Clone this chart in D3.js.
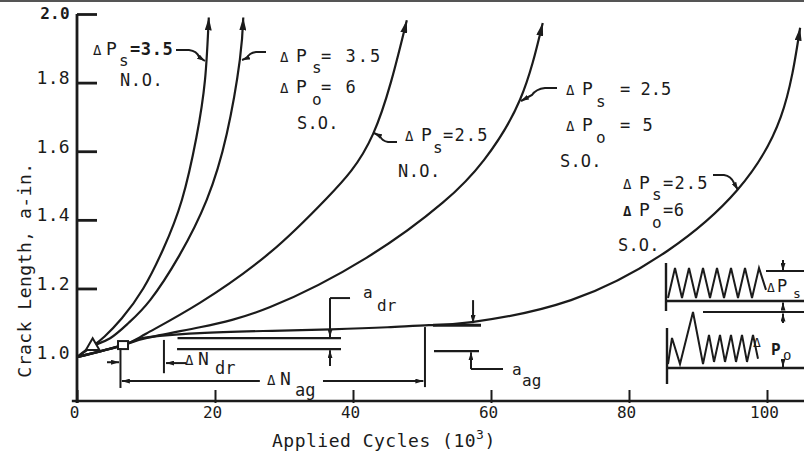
<!DOCTYPE html>
<html><head><meta charset="utf-8">
<script src="https://cdn.jsdelivr.net/npm/d3@7"></script>
<style>
body{margin:0;background:#fff}
svg{display:block;background:#fff}
text{font-family:"DejaVu Sans Mono",monospace;fill:#1b1b1b}
</style>
</head><body>
<svg id="c" width="804" height="453"></svg>
<script>
// ---------- data (cycles in 10^3, crack length in inches) ----------
const xTicks = [0, 20, 40, 60, 80, 100];
const xTickLabels = ["0", "20", "40", "60", "80", "100"];
const yTicks = [1.0, 1.2, 1.4, 1.6, 1.8, 2.0];
const yTickLabels = ["1.0", "1.2", "1.4", "1.6", "1.8", "2.0"];

const curvePs35NO = [[0,1.0],[2.27,1.032],[4,1.06],[6.5,1.113],[9.6,1.2],[12.5,1.315],[15.2,1.458],[17.3,1.64],[18.55,1.808],[19.1,1.99]];
const curvePs35Po6SO = [[0,1.0],[2.27,1.032],[4.8,1.055],[7.5,1.10],[10.6,1.166],[14.8,1.295],[18.8,1.458],[21.7,1.65],[23.6,1.866],[24.1,1.99]];
const curvePs25NO = [[0,1.0],[6.67,1.035],[10,1.068],[17.8,1.158],[28,1.305],[36.2,1.463],[42.9,1.65],[47.8,1.982]];
const curvePs25Po5SO = [[0,1.0],[6.67,1.035],[10,1.055],[17.8,1.087],[28,1.146],[42,1.29],[53,1.45],[59,1.575],[64.2,1.75],[67.5,1.974]];
const curvePs25Po6SO = [[0,1.0],[6.67,1.035],[9,1.053],[12,1.062],[17.8,1.07],[27,1.076],[36.8,1.081],[45,1.087],[51,1.093],[57.2,1.102],[71.6,1.166],[85.6,1.31],[95.7,1.487],[102,1.70],[104.8,1.96]];
const series = [curvePs35NO, curvePs35Po6SO, curvePs25NO, curvePs25Po5SO, curvePs25Po6SO];

const trianglePoint = [2.27, 1.032];
const squarePoint = [6.67, 1.035];

// load-spectrum sketch (inset): time steps and relative load levels
const constAmpT = [0,1,2,3,4,5,6,7,8,9,10,11,12,13,14];
const constAmpL = [0,1,0,1,0,1,0,1,0,1,0,1,0,1,0.27];
const overloadT = [0,4,12,25,35,41,46,52,57,63,68,74,79,85,90];
const overloadL = [0,0.5,0,1,0,0.56,0.04,0.56,0.04,0.56,0.04,0.56,0.04,0.56,0.1];

// ---------- drawing ----------
const ink = "#1b1b1b";
const svg = d3.select("#c");
const x = d3.scaleLinear().domain([0, 100]).range([77, 767]);
const y = d3.scaleLinear().domain([0.872, 2.0]).range([401, 14]);

const defs = svg.append("defs");
function mk(id, len, wid) {
  defs.append("marker").attr("id", id).attr("markerUnits", "userSpaceOnUse")
    .attr("viewBox", `0 0 ${len} ${wid}`).attr("refX", len).attr("refY", wid / 2)
    .attr("markerWidth", len).attr("markerHeight", wid).attr("orient", "auto")
    .append("path").attr("d", `M0,0L${len},${wid / 2}L0,${wid}Z`).attr("fill", ink);
}
mk("tip", 13, 7);
mk("sm", 8, 5);

// scan border at top
svg.append("line").attr("x1", 0).attr("x2", 804).attr("y1", 1).attr("y2", 1)
  .attr("stroke", "#555").attr("stroke-width", 2);

// axes
svg.append("line").attr("x1", x(0)).attr("x2", x(0)).attr("y1", y(2.0)).attr("y2", 403)
  .attr("stroke", ink).attr("stroke-width", 2.8);
svg.append("line").attr("x1", x(-0.75)).attr("x2", 804).attr("y1", y(0.872)).attr("y2", y(0.872))
  .attr("stroke", ink).attr("stroke-width", 2.6);

const yAxis = svg.append("g").attr("transform", `translate(${x(0)},0)`)
  .call(d3.axisLeft(y).tickValues(yTicks).tickSize(-20).tickPadding(7)
    .tickFormat((d, i) => yTickLabels[i]));
yAxis.select(".domain").remove();
yAxis.selectAll(".tick line").attr("stroke", ink).attr("stroke-width", 2.8)
  .attr("display", d => d === 1.0 ? "none" : null);
yAxis.selectAll(".tick text").attr("font-family", "DejaVu Sans Mono").attr("font-size", 18)
  .attr("fill", ink).attr("dy", "0.06em").attr("letter-spacing", 0.3);
yAxis.selectAll(".tick text").filter(d => d === 2.0).attr("font-weight", "bold")
  .attr("font-size", 16).attr("dy", "0.25em");

const xAxis = svg.append("g").attr("transform", `translate(0,${y(0.872)})`)
  .call(d3.axisBottom(x).tickValues(xTicks).tickSize(-11).tickPadding(6)
    .tickFormat((d, i) => xTickLabels[i]));
xAxis.select(".domain").remove();
xAxis.selectAll(".tick line").attr("stroke", ink).attr("stroke-width", 2).attr("y2", -11).attr("y1", 2);
xAxis.selectAll(".tick text").attr("font-family", "DejaVu Sans Mono").attr("font-size", 16)
  .attr("fill", ink).attr("dx", -3);

// axis titles
svg.append("text").attr("transform", "translate(31,270) rotate(-90)")
  .attr("text-anchor", "middle").attr("font-size", 18).attr("letter-spacing", 0.5)
  .text("Crack Length, a-in.");
const xt = svg.append("text").attr("x", 272).attr("y", 447).attr("font-size", 18).attr("letter-spacing", 0.5);
xt.append("tspan").text("Applied Cycles (10");
xt.append("tspan").attr("font-size", 13).attr("dy", -8).text("3");
xt.append("tspan").attr("dy", 8).text(")");

// curves
const line = d3.line().x(d => x(d[0])).y(d => y(d[1])).curve(d3.curveNatural);
svg.append("g").selectAll("path").data(series).join("path")
  .attr("d", line).attr("fill", "none").attr("stroke", ink).attr("stroke-width", 2.2)
  .attr("marker-end", "url(#tip)");

// point markers
svg.append("path").attr("d", d3.symbol(d3.symbolTriangle, 80)())
  .attr("transform", `translate(${x(trianglePoint[0])},${y(trianglePoint[1])})`)
  .attr("fill", "#fff").attr("stroke", ink).attr("stroke-width", 2);
svg.append("rect").attr("x", x(squarePoint[0]) - 5).attr("y", y(squarePoint[1]) - 4)
  .attr("width", 10).attr("height", 8).attr("fill", "#fff").attr("stroke", ink).attr("stroke-width", 2);

// helpers
function seg(x1, y1, x2, y2, opt = {}) {
  const l = svg.append("line").attr("x1", x(x1)).attr("y1", y(y1)).attr("x2", x(x2)).attr("y2", y(y2))
    .attr("stroke", ink).attr("stroke-width", opt.w || 2);
  if (opt.arrow) l.attr("marker-end", "url(#sm)");
  return l;
}
function pseg(x1, y1, x2, y2, opt = {}) {
  const l = svg.append("line").attr("x1", x1).attr("y1", y1).attr("x2", x2).attr("y2", y2)
    .attr("stroke", ink).attr("stroke-width", opt.w || 2);
  if (opt.arrow) l.attr("marker-end", "url(#sm)");
  return l;
}
function T(px, py, s, size, opt = {}) {
  const t = svg.append("text").attr("x", px).attr("y", py).attr("font-size", size).text(s);
  if (opt.b) t.attr("font-weight", "bold");
  if (opt.ls !== undefined) t.attr("letter-spacing", opt.ls);
  return t;
}
function leader(d) {
  svg.append("path").attr("d", d).attr("fill", "none").attr("stroke", ink)
    .attr("stroke-width", 2).attr("marker-end", "url(#sm)");
}

// ---- curve labels ----
T(93, 55, "Δ", 14); T(106, 55, "P", 18); T(119, 66, "s", 16); T(130, 55, "=3.5", 17, {b: true, ls: 0.6});
T(120, 86, "N.O.", 17, {ls: 0.6});
leader("M176,50 L189,50 Q197,51 199,57 L205,61");

T(280, 62, "Δ", 14); T(296, 62, "P", 18); T(312, 73, "s", 16); T(321, 62, "= 3.5", 17, {ls: 2});
T(280, 93, "Δ", 14); T(296, 93, "P", 18); T(312, 105, "o", 16); T(321, 93, "= 6", 17, {ls: 2});
T(297, 129, "S.O.", 17, {ls: 0.2});
leader("M266,52 L256,52 Q249,53 247,58 L242,60");

T(405, 141, "Δ", 14); T(421, 141, "P", 18); T(433, 153, "s", 16); T(443, 141, "=2.5", 17, {ls: 1.2});
T(398, 177, "N.O.", 17, {ls: 0.4});
leader("M397,142 L388,142 Q382,141 380,136 L374,133");

T(566, 95, "Δ", 14); T(582, 95, "P", 18); T(596, 107, "s", 16); T(620, 95, "= 2.5", 17, {ls: 0});
T(566, 131, "Δ", 14); T(582, 131, "P", 18); T(596, 143, "o", 16); T(620, 131, "= 5", 17, {ls: 1});
T(560, 167, "S.O.", 17, {ls: 0.2});
leader("M557,88 L545,88 Q536,89 532,95 L521,101");

T(623, 189, "Δ", 14); T(639, 189, "P", 18); T(652, 200, "s", 16); T(663, 189, "=2.5", 17, {ls: 1.2});
T(623, 216, "Δ", 14, {b: true}); T(639, 216, "P", 18); T(652, 228, "o", 16); T(663, 216, "=6", 17, {ls: 0.5});
T(618, 251, "S.O.", 17, {ls: 0.2});
leader("M713,175 L724,175 Q731,176 734,183 L738,190");

// ---- interval annotations (data units) ----
seg(6.3, 1.026, 6.3, 0.910);                // start of delay (vertical)
seg(4.35, 0.985, 6.1, 0.985, {arrow: true});
seg(26.5, 0.930, 6.5, 0.930, {arrow: true}); // ΔN_ag left part
seg(35.65, 0.930, 50.2, 0.930, {arrow: true});
seg(50.43, 1.0875, 50.43, 0.9125);           // end of ΔN_ag
T(267, 385, "Δ", 14); T(280, 385, "N", 18); T(295, 396, "ag", 17);

seg(12.6, 1.05, 12.6, 0.953);                // ΔN_dr
seg(15.8, 0.9825, 12.9, 0.9825, {arrow: true});
T(185, 365, "Δ", 14); T(198, 365, "N", 18); T(215, 374, "dr", 17);

seg(14.57, 1.0554, 38.26, 1.0554, {w: 2.2});  // a_dr double line
seg(14.5, 1.0233, 38.26, 1.0233, {w: 2.2});
seg(39.57, 1.172, 36.67, 1.172);
seg(36.67, 1.172, 36.67, 1.058, {arrow: true});
seg(36.67, 0.974, 36.67, 1.020, {arrow: true});
T(363, 298, "a", 16); T(377, 311, "dr", 16);

seg(51.6, 1.093, 58.55, 1.093, {w: 3});        // a_ag
seg(57.4, 1.166, 57.4, 1.099, {arrow: true});
seg(51.74, 1.0175, 58.26, 1.0175, {w: 2.2});
seg(61.74, 0.965, 57.1, 0.965);
seg(57.1, 0.965, 57.1, 1.014, {arrow: true});
T(512, 375, "a", 16); T(522, 386, "ag", 16);

// ---- inset load spectra ----
const isx = d3.scaleLinear().domain([0, 14]).range([668, 766]);
const isy = d3.scaleLinear().domain([0, 1]).range([298, 268]);
const iox = d3.scaleLinear().domain([0, 90]).range([668, 758]);
const ioy = d3.scaleLinear().domain([0, 1]).range([364, 312]);
svg.append("path").attr("d", d3.line().x((d, i) => isx(constAmpT[i])).y(d => isy(d))(constAmpL))
  .attr("fill", "none").attr("stroke", ink).attr("stroke-width", 2);
svg.append("path").attr("d", d3.line().x((d, i) => iox(overloadT[i])).y(d => ioy(d))(overloadL))
  .attr("fill", "none").attr("stroke", ink).attr("stroke-width", 2);
pseg(666, 263, 666, 311, {w: 2.4});
pseg(666, 301, 804, 301, {w: 2.4});
pseg(766, isy(0.9), 804, isy(0.9));
pseg(783, 260, 783, isy(0.9), {arrow: true});
pseg(783, 310, 783, 302.5, {arrow: true});
pseg(703, ioy(1), 804, ioy(1));
pseg(783, 323, 783, ioy(1) + 1.5, {arrow: true});
pseg(667, 328, 667, 384, {w: 2.4});
pseg(667, 368, 804, 368, {w: 2.4});
pseg(783, 359, 783, 367, {arrow: true});
T(767, 292, "Δ", 13); T(777, 292, "P", 17); T(793, 298, "s", 13);
T(753, 347, "Δ", 13); T(771, 355, "P", 16, {b: true}); T(783, 360, "o", 14);
</script>
</body></html>
